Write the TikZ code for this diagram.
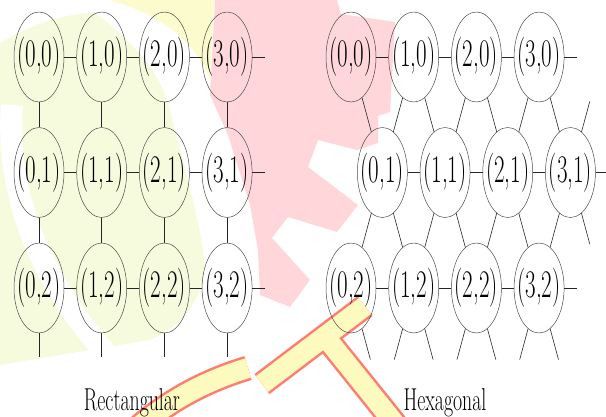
\documentclass[tikz,border=0pt]{standalone}
\usetikzlibrary{shapes.geometric}
\definecolor{pinkW}{RGB}{255,214,218}
\definecolor{yelS}{RGB}{252,251,205}
\definecolor{yelG}{RGB}{246,251,222}
\definecolor{ctRed}{RGB}{255,125,110}
\definecolor{ctYel}{RGB}{253,250,192}
\newcommand\cellLab[2]{\makebox[0pt]{\scalebox{1}[1.7]{\fontsize{23}{23}\selectfont(#1,#2)}}}
\newcommand\capLab[1]{\scalebox{1}[1.6]{\fontsize{19.8}{22}\selectfont #1}}
\begin{document}
\begin{tikzpicture}[x=1pt,y=-1pt,
  nd/.style={ellipse, draw=black!70, line width=0.5pt,
    minimum width=50pt, minimum height=90pt, inner sep=0pt},
  ln/.style={line width=0.6pt, draw=black!85}]
\path[use as bounding box] (0,0) rectangle (606,416);
% ---- watermark background ----
\fill[yelS] (110,0) -- (214,0) -- (210,80) .. controls (195,40) and (160,15) .. cycle;
\fill[yelG] (0,43) .. controls (30,25) and (60,15) .. (95,12)
  .. controls (130,40) and (160,70) .. (170,110)
  .. controls (185,170) and (200,220) .. (204,260)
  .. controls (206,295) and (185,325) .. (150,340) -- (0,365) -- cycle;
\draw[white, line width=22pt] (12,105) .. controls (5,200) and (45,285) .. (105,352);
\fill[pinkW] (215,0) -- (337,0) -- (341,14) -- (395,22) -- (390,112) -- (378,116)
  -- (378,143) -- (357,150) -- (318,140) -- (308,167) -- (358,205) -- (337,232)
  -- (288,217) -- (272,238) -- (310,280) -- (290,307) -- (260,295) -- (258,250)
  -- (250,205) -- (228,135) -- (210,95) -- cycle;
\draw[ctRed, line width=25pt] (248,368) .. controls (215,378) and (175,395) .. (135,430);
\draw[ctRed, line width=25pt] (262,384) -- (365,306);
\draw[ctRed, line width=25pt] (323,334) -- (400,430);
\draw[ctYel, line width=20pt] (248,368) .. controls (215,378) and (175,395) .. (135,430);
\draw[ctYel, line width=20pt] (262,384) -- (365,306);
\draw[ctYel, line width=20pt] (323,334) -- (400,430);
% ---- rectangular grid ----
\foreach \i in {0,...,3}{
  \foreach \j in {0,1,2}{
    \node[nd] (r\i\j) at ({39+62.7*\i},{57+115.5*\j}) {\cellLab{\i}{\j}};
  }
}
\foreach \j in {0,1,2}{
  \foreach \i/\k in {0/1,1/2,2/3}{ \draw[ln] (r\i\j) -- (r\k\j); }
  \coordinate (rE\j) at (265,{57+115.5*\j});
  \draw[ln] (r3\j) -- (rE\j);
}
\foreach \i in {0,...,3}{
  \draw[ln] (r\i0) -- (r\i1);
  \draw[ln] (r\i1) -- (r\i2);
  \coordinate (rB\i) at ({39+62.7*\i},357);
  \draw[ln] (r\i2) -- (rB\i);
}
% ---- hexagonal grid ----
\foreach \i in {0,...,3}{
  \node[nd] (h\i0) at ({351+62.7*\i},57) {\cellLab{\i}{0}};
  \node[nd] (h\i1) at ({382.35+62.7*\i},172.5) {\cellLab{\i}{1}};
  \node[nd] (h\i2) at ({351+62.7*\i},288) {\cellLab{\i}{2}};
}
\foreach \j in {0,1,2}{
  \foreach \i/\k in {0/1,1/2,2/3}{ \draw[ln] (h\i\j) -- (h\k\j); }
}
\coordinate (hE0) at (577,57);
\coordinate (hE1) at (610,172.5);
\coordinate (hE2) at (577,288);
\foreach \j in {0,1,2}{ \draw[ln] (h3\j) -- (hE\j); }
\foreach \i in {0,...,3}{
  \draw[ln] (h\i0) -- (h\i1);
  \draw[ln] (h\i1) -- (h\i2);
}
\foreach \i/\k in {1/0,2/1,3/2}{
  \draw[ln] (h\i0) -- (h\k1);
  \draw[ln] (h\k1) -- (h\i2);
}
\coordinate (hTR) at (589.8,101.4);
\coordinate (hBR) at (589.8,244.1);
\draw[ln] (h31) -- (hTR);
\draw[ln] (h31) -- (hBR);
\foreach \i in {0,...,3}{
  \coordinate (hR\i) at ({351+62.7*\i+19.4},359.6);
  \draw[ln] (h\i2) -- (hR\i);
}
\foreach \i in {1,2,3}{
  \coordinate (hL\i) at ({351+62.7*\i-19.4},359.6);
  \draw[ln] (h\i2) -- (hL\i);
}
% ---- captions ----
\node[anchor=base, inner sep=0pt] (capR) at (132,410) {\capLab{Rectangular}};
\node[anchor=base, inner sep=0pt] (capH) at (445,410) {\capLab{Hexagonal}};
\end{tikzpicture}
\end{document}
